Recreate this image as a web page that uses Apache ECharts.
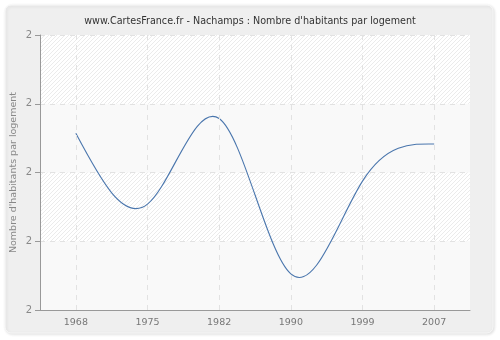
<!DOCTYPE html>
<html>
<head>
<meta charset="utf-8">
<script src="https://cdn.jsdelivr.net/npm/echarts@6/dist/echarts.min.js"></script>
<style>
  html, body { margin: 0; padding: 0; background: #ffffff; }
  #chart { width: 500px; height: 340px; }
</style>
</head>
<body>
<div id="chart"></div>
<script>
// Census years and the average number of inhabitants per dwelling
const years = ['1968', '1975', '1982', '1990', '1999', '2007'];
const habitantsParLogement = [2.257, 2.154, 2.2785, 2.0525, 2.1875, 2.2415];
const yMin = 2.0, yMax = 2.4, yStep = 0.1;

// Diagonal hatching used as the plot background
function hatchPattern() {
  const s = 4;
  const c = document.createElement('canvas');
  c.width = s; c.height = s;
  const g = c.getContext('2d');
  g.fillStyle = '#ffffff';
  g.fillRect(0, 0, s, s);
  g.strokeStyle = '#ebebeb';
  g.lineWidth = 1;
  g.beginPath();
  g.moveTo(-1, s + 1); g.lineTo(s + 1, -1);
  g.moveTo(-1, 1); g.lineTo(1, -1);
  g.moveTo(s - 1, s + 1); g.lineTo(s + 1, s - 1);
  g.stroke();
  return { image: c, repeat: 'repeat' };
}

// Natural cubic spline through pixel points, returned as SVG path data
function naturalSplinePath(pts) {
  const n = pts.length;
  if (n < 2) return '';
  const h = [];
  for (let i = 0; i < n - 1; i++) h.push(pts[i + 1][0] - pts[i][0]);
  // second derivatives M, with M[0] = M[n-1] = 0
  const M = new Array(n).fill(0);
  if (n > 2) {
    const a = [], b = [], c = [], d = [];
    for (let i = 1; i < n - 1; i++) {
      a.push(h[i - 1]);
      b.push(2 * (h[i - 1] + h[i]));
      c.push(h[i]);
      d.push(6 * ((pts[i + 1][1] - pts[i][1]) / h[i] - (pts[i][1] - pts[i - 1][1]) / h[i - 1]));
    }
    const m = b.length;
    for (let i = 1; i < m; i++) {
      const w = a[i] / b[i - 1];
      b[i] -= w * c[i - 1];
      d[i] -= w * d[i - 1];
    }
    const sol = new Array(m);
    sol[m - 1] = d[m - 1] / b[m - 1];
    for (let i = m - 2; i >= 0; i--) sol[i] = (d[i] - c[i] * sol[i + 1]) / b[i];
    for (let i = 0; i < m; i++) M[i + 1] = sol[i];
  }
  let path = 'M' + pts[0][0] + ',' + pts[0][1];
  for (let i = 0; i < n - 1; i++) {
    const [x0, y0] = pts[i], [x1, y1] = pts[i + 1], hi = h[i];
    const s0 = (y1 - y0) / hi - hi * (2 * M[i] + M[i + 1]) / 6;
    const s1 = (y1 - y0) / hi + hi * (M[i] + 2 * M[i + 1]) / 6;
    path += ' C' + (x0 + hi / 3) + ',' + (y0 + s0 * hi / 3) + ' ' +
            (x1 - hi / 3) + ',' + (y1 - s1 * hi / 3) + ' ' + x1 + ',' + y1;
  }
  return path;
}

const chart = echarts.init(document.getElementById('chart'), null, { renderer: 'canvas' });
const font = 'DejaVu Sans, Verdana, sans-serif';
const gridColor = '#e2e2e2';
const lineColor = '#4a76ad';

chart.setOption({
  animation: false,
  backgroundColor: '#ffffff',
  graphic: [{
    type: 'rect',
    shape: { x: 5, y: 5, width: 488, height: 328, r: 6 },
    style: { fill: '#efefef', stroke: '#f8f8f8', lineWidth: 1,
             shadowColor: 'rgba(0,0,0,0.12)', shadowBlur: 3, shadowOffsetX: 1, shadowOffsetY: 1 },
    z: -10
  }],
  title: {
    text: "www.CartesFrance.fr - Nachamps : Nombre d'habitants par logement",
    left: 'center',
    top: 11,
    textStyle: { fontFamily: font, fontSize: 9.6, fontWeight: 'normal', color: '#333333' }
  },
  grid: {
    left: 40, right: 30, top: 35, bottom: 30,
    outerBoundsMode: 'none',
    containLabel: false,
    show: true,
    backgroundColor: hatchPattern(),
    borderWidth: 0
  },
  xAxis: {
    type: 'category',
    data: years,
    boundaryGap: true,
    axisLine: { lineStyle: { color: '#999999', width: 1 } },
    axisTick: { alignWithLabel: true, length: 5, lineStyle: { color: '#999999' } },
    axisLabel: { fontFamily: font, fontSize: 9.5, color: '#777777', margin: 8 },
    splitLine: { show: false }
  },
  yAxis: {
    type: 'value',
    min: yMin, max: yMax, interval: yStep,
    name: "Nombre d'habitants par logement",
    nameLocation: 'middle',
    nameGap: 21,
    nameMoveOverlap: false,
    nameTextStyle: { fontFamily: font, fontSize: 9.5, color: '#888888' },
    axisLine: { show: true, lineStyle: { color: '#999999', width: 1 } },
    axisTick: { show: true, length: 5, lineStyle: { color: '#999999' } },
    axisLabel: { fontFamily: font, fontSize: 10, color: '#888888', margin: 8,
                 formatter: v => String(Math.floor(v + 1e-9)) },
    splitLine: { show: true, lineStyle: { color: gridColor, type: [5, 5] } },
    splitArea: { show: true, areaStyle: { color: ['rgba(249,249,249,1)', 'rgba(0,0,0,0)'] } }
  },
  series: [
    {
      // vertical dashed guides through each census year
      type: 'line',
      data: [],
      silent: true,
      markLine: {
        silent: true,
        symbol: ['none', 'none'],
        label: { show: false },
        lineStyle: { color: gridColor, type: [5, 5], width: 1 },
        data: years.map(y => ({ xAxis: y }))
      }
    },
    {
      // the curve itself: a natural cubic spline through every census value
      type: 'custom',
      data: habitantsParLogement.map((v, i) => [i, v]),
      encode: { x: 0, y: 1 },
      renderItem: function (params, api) {
        if (params.dataIndex !== 0) return null;
        const pts = habitantsParLogement.map((v, i) => api.coord([i, v]));
        return {
          type: 'path',
          shape: { pathData: naturalSplinePath(pts) },
          style: { fill: 'none', stroke: lineColor, lineWidth: 1.1 }
        };
      },
      z: 3
    }
  ]
});
</script>
</body>
</html>
